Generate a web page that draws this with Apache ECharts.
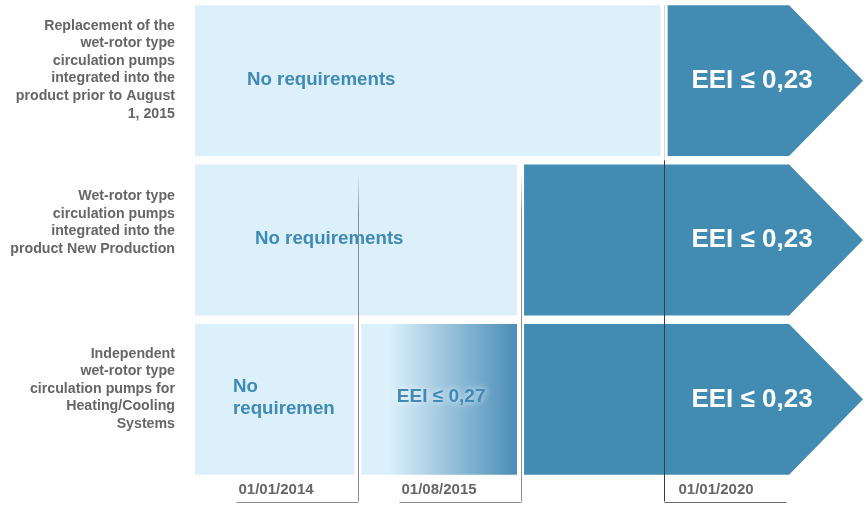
<!DOCTYPE html>
<html>
<head>
<meta charset="utf-8">
<script src="https://cdn.jsdelivr.net/npm/echarts@6/dist/echarts.min.js"></script>
<style>
    html, body { margin: 0; padding: 0; background: #fff; }
    #main { width: 867px; height: 506px; }
</style>
</head>
<body>
<div id="main"></div>
<script>
// rows of the diagram (y categories)
const rowLabels = [
    'Replacement of the\nwet-rotor type\ncirculation pumps\nintegrated into the\nproduct prior to August\n1, 2015',
    'Wet-rotor type\ncirculation pumps\nintegrated into the\nproduct New Production',
    'Independent\nwet-rotor type\ncirculation pumps for\nHeating/Cooling\nSystems'
];

// milestone dates
const dateLabels = ['01/01/2014', '01/08/2015', '01/01/2020'];

// timeline stops on the x axis: start, each date, end
const timeline = [0, 1, 2, 2.882, 4.104];

// [row, from stop, to stop, text, kind]
const segments = [
    [0, 0, 3, 'No requirements', 'none'],
    [0, 3, 4, 'EEI ≤ 0,23', 'limit'],
    [1, 0, 2, 'No requirements', 'none'],
    [1, 2, 4, 'EEI ≤ 0,23', 'limit'],
    [2, 0, 1, 'No\nrequiremen', 'none'],
    [2, 1, 2, 'EEI ≤ 0,27', 'fade'],
    [2, 2, 4, 'EEI ≤ 0,23', 'limit']
];

// [timeline stop, first row crossed, leg direction]
const dateMarks = [
    [1, 1, -1],
    [2, 1, -1],
    [3, 0, 1]
];

// layout / style
const LIGHT = '#dbf0fb';
const DARK = '#428bb3';
const BLUE_TEXT = '#3f8ab6';
const GREY_TEXT = '#666666';
const FONT = '"Liberation Sans", Arial, Helvetica, sans-serif';
const GAP = 3.5;
const ROW_GAP = 8.5;
const textInset = [52, 60, 38];
const labelLift = [11, 17.5, 10.5];

const chart = echarts.init(document.getElementById('main'), null, { renderer: 'canvas' });

function renderSegment(params, api) {
    const seg = segments[params.dataIndex];
    const row = seg[0];
    const start = api.coord([api.value(0), row]);
    const end = api.coord([api.value(1), row]);
    const band = api.size([0, 1])[1];
    const h = band - ROW_GAP;
    const top = start[1] - h / 2;
    const x0 = seg[1] === 0 ? start[0] : start[0] + GAP;
    const x1 = seg[2] === timeline.length - 1 ? end[0] : end[0] - GAP;
    const cy = start[1];
    const kind = seg[4];
    const children = [];

    if (kind === 'limit') {
        const tip = h / 2 - 1.5;
        children.push({
            type: 'polygon',
            shape: { points: [[x0, top], [x1 - tip, top], [x1, cy], [x1 - tip, top + h], [x0, top + h]] },
            style: { fill: DARK }
        });
        children.push({
            type: 'text',
            style: {
                text: seg[3], x: x1 - 111, y: cy,
                align: 'center', verticalAlign: 'middle',
                fill: '#fff', fontSize: 26, fontWeight: 'bold', fontFamily: FONT
            }
        });
    } else if (kind === 'fade') {
        children.push({
            type: 'rect',
            shape: { x: x0, y: top, width: x1 - x0, height: h },
            style: {
                fill: new echarts.graphic.LinearGradient(0, 0, 1, 0, [
                    { offset: 0, color: LIGHT },
                    { offset: 0.18, color: LIGHT },
                    { offset: 1, color: '#4a8db6' }
                ])
            }
        });
        children.push({
            type: 'text',
            style: {
                text: seg[3], x: (x0 + x1) / 2 + 2, y: cy - 3,
                align: 'center', verticalAlign: 'middle',
                fill: BLUE_TEXT, fontSize: 19, fontWeight: 'bold', fontFamily: FONT,
                textShadowColor: 'rgba(255,255,255,0.95)', textShadowBlur: 6
            }
        });
    } else {
        children.push({
            type: 'rect',
            shape: { x: x0, y: top, width: x1 - x0, height: h },
            style: { fill: LIGHT }
        });
        children.push({
            type: 'text',
            style: {
                text: seg[3], x: x0 + textInset[row], y: cy - 1,
                align: 'left', verticalAlign: 'middle', lineHeight: 22,
                fill: BLUE_TEXT, fontSize: 18.7, fontWeight: 'bold', fontFamily: FONT
            }
        });
    }
    return { type: 'group', children: children };
}

function renderRowLabel(params, api) {
    const row = api.value(0);
    const p = api.coord([0, row]);
    return {
        type: 'text',
        style: {
            text: rowLabels[row], x: p[0] - 20, y: p[1] - labelLift[row],
            align: 'right', verticalAlign: 'middle', lineHeight: 17.6,
            fill: GREY_TEXT, fontSize: 14.2, fontWeight: 'bold', fontFamily: FONT
        }
    };
}

function renderMark(params, api) {
    const mark = dateMarks[params.dataIndex];
    const row = mark[1];
    const dir = mark[2];
    const p = api.coord([api.value(0), row]);
    const x = Math.round(p[0]) + 0.5;
    const band = api.size([0, 1])[1];
    const h = band - ROW_GAP;
    const bottom = api.getHeight() - 4.5;
    const children = [];
    if (row === 0) {
        const split = p[1] + band / 2;
        children.push({
            type: 'line',
            shape: { x1: x, y1: p[1] - h / 2, x2: x, y2: split },
            style: { stroke: '#d6d6d6', lineWidth: 1 }
        });
        children.push({
            type: 'line',
            shape: { x1: x, y1: split, x2: x, y2: bottom },
            style: { stroke: '#3c3c3c', lineWidth: 1 }
        });
    } else {
        const top = p[1] - h / 2 + 10;
        children.push({
            type: 'line',
            shape: { x1: x, y1: top, x2: x, y2: bottom },
            style: {
                stroke: new echarts.graphic.LinearGradient(x, top, x, top + 40, [
                    { offset: 0, color: 'rgba(140,140,140,0)' },
                    { offset: 1, color: '#8c8c8c' }
                ], true),
                lineWidth: 1
            }
        });
    }
    children.push({
        type: 'line',
        shape: { x1: x, y1: Math.round(bottom) + 0.5, x2: x + dir * 122, y2: Math.round(bottom) + 0.5 },
        style: { stroke: row === 0 ? '#6a6a6a' : '#8c8c8c', lineWidth: 1 }
    });
    children.push({
        type: 'text',
        style: {
            text: dateLabels[params.dataIndex],
            x: dir < 0 ? x - 120 : x + 14, y: bottom - 12,
            align: 'left', verticalAlign: 'middle',
            fill: GREY_TEXT, fontSize: 15, fontWeight: 'bold', fontFamily: FONT
        }
    });
    return { type: 'group', children: children };
}

const option = {
    backgroundColor: '#fff',
    animation: false,
    grid: { left: 195, right: 4, top: 1, bottom: 27 },
    xAxis: {
        type: 'value',
        min: 0,
        max: timeline[timeline.length - 1],
        show: false
    },
    yAxis: {
        type: 'category',
        inverse: true,
        data: rowLabels,
        axisLine: { show: false },
        axisTick: { show: false },
        splitLine: { show: false },
        axisLabel: { show: false }
    },
    series: [
        {
            type: 'custom',
            clip: false,
            renderItem: renderSegment,
            encode: { x: [0, 1], y: 2 },
            data: segments.map(s => [timeline[s[1]], timeline[s[2]], s[0]])
        },
        {
            type: 'custom',
            clip: false,
            renderItem: renderRowLabel,
            encode: { y: 0 },
            data: rowLabels.map((label, i) => [i])
        },
        {
            type: 'custom',
            clip: false,
            z: 5,
            renderItem: renderMark,
            encode: { x: 0, y: 1 },
            data: dateMarks.map(m => [timeline[m[0]], m[1]])
        }
    ]
};

chart.setOption(option);
</script>
</body>
</html>
